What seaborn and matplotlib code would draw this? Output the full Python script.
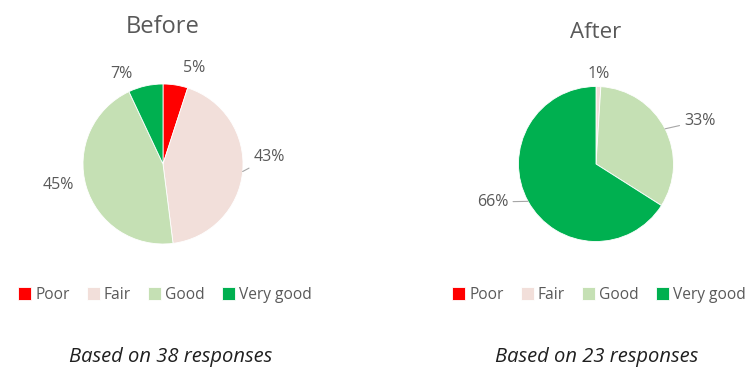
# Before / After rating pies

import numpy as np
import matplotlib
matplotlib.use("Agg")
import matplotlib.pyplot as plt
import seaborn as sns

# data
categories = ["Poor", "Fair", "Good", "Very good"]
before_share = [5, 43, 45, 7]
after_share = [0, 1, 33, 66]
before_n = 38
after_n = 23
colors = ["#FF0000", "#F2DFDA", "#C5E0B4", "#00B050"]

sns.set_theme(style="white")
plt.rcParams["font.family"] = ["Open Sans", "DejaVu Sans"]

W, H = 746, 369
fig = plt.figure(figsize=(W / 100, H / 100), dpi=100)
text_grey = "#595959"


def pie_panel(cx, cy, r, values, title, title_y, title_size, label_r, label_shift, leader):
    pad = 1.8
    size = 2 * r * pad
    ax = fig.add_axes([(cx - size / 2) / W, (H - cy - size / 2) / H, size / W, size / H])
    wedges, _ = ax.pie(values, colors=colors, startangle=90, counterclock=False,
                       radius=1, wedgeprops=dict(edgecolor="white", linewidth=0.6))
    ax.set_xlim(-pad, pad)
    ax.set_ylim(-pad, pad)
    ax.set_aspect("equal")
    ax.axis("off")
    for i, w in enumerate(wedges):
        if values[i] == 0:
            continue
        mid = np.deg2rad((w.theta1 + w.theta2) / 2)
        # shift is clockwise, in degrees
        lab = np.deg2rad((w.theta1 + w.theta2) / 2 - label_shift[i])
        xt, yt = label_r[i] * np.cos(lab), label_r[i] * np.sin(lab)
        if leader[i]:
            ax.annotate(f"{values[i]}%", xy=(np.cos(mid), np.sin(mid)), xytext=(xt, yt),
                        ha="center", va="center", fontsize=11.5, color=text_grey,
                        arrowprops=dict(arrowstyle="-", color="#a6a6a6", lw=0.8,
                                        shrinkA=1, shrinkB=0))
        else:
            ax.text(xt, yt, f"{values[i]}%", ha="center", va="center",
                    fontsize=11.5, color=text_grey)
    fig.text(cx / W, 1 - title_y / H, title, ha="center", va="center",
             fontsize=title_size, color=text_grey)
    return wedges


w_before = pie_panel(163, 164, 80, before_share, "Before", 27, 17,
                     [1.26, 1.33, 1.34, 1.24], [9, -9, 5, -12],
                     [False, True, False, False])
w_after = pie_panel(596, 164, 77.5, after_share, "After", 33, 16,
                    [1.0, 1.16, 1.45, 1.42], [0, 0, 4.5, 8.6],
                    [False, False, True, True])

for wedges, x in [(w_before, 165), (w_after, 599)]:
    fig.legend(wedges, categories, loc="center", bbox_to_anchor=(x / W, 1 - 295 / H),
               ncol=4, frameon=False, fontsize=11.2, labelcolor=text_grey,
               handlelength=0.85, handleheight=0.85, handletextpad=0.25,
               columnspacing=1.1, borderpad=0)

fig.text(171 / W, 1 - 357 / H, f"Based on {before_n} responses", ha="center",
         va="center", fontsize=14.5, style="italic", color="#1f1f1f")
fig.text(597 / W, 1 - 357 / H, f"Based on {after_n} responses", ha="center",
         va="center", fontsize=14.5, style="italic", color="#1f1f1f")

fig.savefig("out.png", dpi=100, facecolor="white")
